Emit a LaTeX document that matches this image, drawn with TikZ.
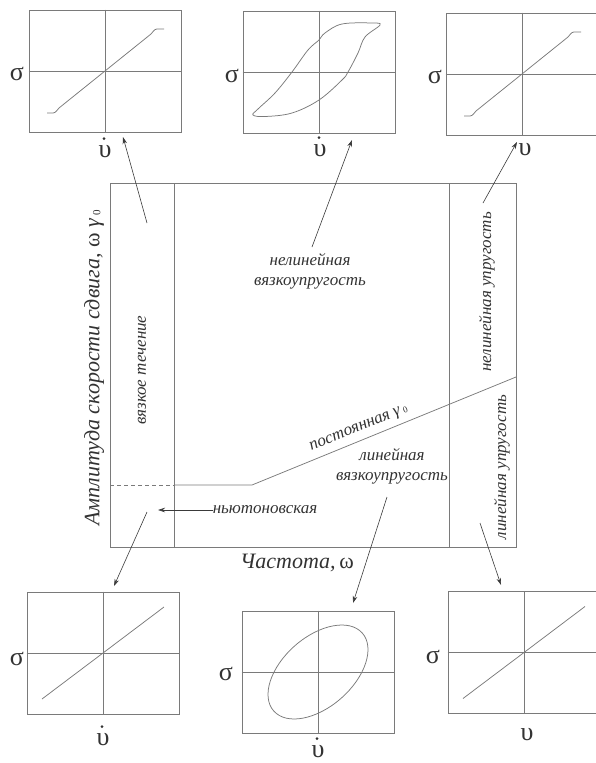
\documentclass[tikz,border=0pt]{standalone}
\usepackage{fontspec}
\setmainfont{Liberation Serif}
\usetikzlibrary{arrows.meta,calc}
\definecolor{lc}{HTML}{7A7A7A}
\definecolor{ac}{HTML}{3A3A3A}
\definecolor{tc}{HTML}{333333}
\begin{document}
\begin{tikzpicture}[x=1pt,y=-1pt,
  ln/.style={draw=lc, line width=0.75pt},
  plotbox/.style={draw=lc, line width=0.75pt, minimum width=152pt, minimum height=122pt, inner sep=0pt},
  cv/.style={draw=lc, line width=0.75pt},
  arr/.style={draw=ac, line width=0.6pt, -{Stealth[length=7pt,width=4.5pt]}},
  lbl/.style={font=\fontsize{17}{20}\selectfont\itshape, text=tc, inner sep=0pt},
  big/.style={font=\fontsize{22}{24}\selectfont\itshape, text=tc, inner sep=0pt},
  sym/.style={font=\fontsize{26}{28}\selectfont, text=tc, inner sep=0pt, anchor=base},
]
\useasboundingbox (0,0) rectangle (595,763);

% ---- plot boxes ----
\node[plotbox] (tl) at (105,71) {};
\node[plotbox] (tm) at (319,72) {};
\node[plotbox] (tr) at (522,74) {};
\node[plotbox] (bl) at (103,653) {};
\node[plotbox] (bm) at (318,672) {};
\node[plotbox] (br) at (524,652.5) {};
\foreach \b in {tl,tm,tr,bl,bm,br}{
  \draw[ln] (\b.north) -- (\b.south);
  \draw[ln] (\b.west) -- (\b.east);
}

% saturating curves
\foreach \b in {tl,tr}{
  \draw[cv, shift={(\b.center)}] (-58,42) -- (-54,42) .. controls (-50,42) .. (-46,37) -- (46,-37) .. controls (50,-42) .. (54,-42) -- (59,-42);
}
% hysteresis loop
\draw[cv, shift={(tm.center)}] plot[smooth cycle, tension=0.6] coordinates {
  (-66,43) (-54,44.5) (-27,41) (0,28) (23,8) (29,0) (39,-19) (46,-35) (61,-47)
  (53,-49) (23,-48) (6,-39) (0,-32) (-11,-22) (-27,0) (-44,21) (-61,37)};
% straight lines
\foreach \b in {bl,br}{
  \draw[cv, shift={(\b.center)}] (-61,46) -- (61,-46);
}
% ellipse
\draw[cv, shift={(bm.center)}, rotate=41.3] (0,0) ellipse [x radius=59pt, y radius=35pt];

% symbols
\node[sym] (s1) at (17,80) {σ};
\node[sym] (s2) at (232,82) {σ};
\node[sym] (s3) at (435,83) {σ};
\node[sym] (s4) at (17,665) {σ};
\node[sym] (s5) at (226,680) {σ};
\node[sym] (s6) at (433,663) {σ};
\node[sym] (u1) at (105,157) {υ};
\node[sym] (u2) at (320,156) {υ};
\node[sym] (u3) at (525,155) {υ};
\node[sym] (u4) at (103,745) {υ};
\node[sym] (u5) at (318,757) {υ};
\node[sym] (u6) at (527,740) {υ};
\foreach \u in {u1,u2,u4,u5}{
  \fill[tc] ($(\u.north)+(-1,-6)$) circle (1.5pt);
}

% ---- main diagram ----
\node[draw=lc, line width=0.75pt, inner sep=0pt, minimum width=406pt, minimum height=364pt] (main) at (313,365) {};
\coordinate (v1t) at (174,183); \coordinate (v1b) at (174,547);
\coordinate (v2t) at (449,183); \coordinate (v2b) at (449,547);
\draw[ln] (v1t) -- (v1b);
\draw[ln] (v2t) -- (v2b);
\coordinate (dl) at (110,485);
\coordinate (dr) at (174,485);
\coordinate (kn) at (252,485);
\coordinate (re) at (516,377);
\draw[ln, dashed, dash pattern=on 4pt off 3pt] (dl) -- (dr);
\draw[ln] (dr) -- (kn) -- (re);

% labels
\node[lbl, rotate=90] (visc) at (142,370) {вязкое течение};
\node[lbl, align=center] (nlve) at (310,271) {нелинейная\\вязкоупругость};
\node[lbl, rotate=90] (nle) at (487,292) {нелинейная упругость};
\node[lbl, rotate=90] (le) at (502,467) {линейная упругость};
\node[lbl, align=center] (lve) at (392,466) {линейная\\вязкоупругость};
\node[lbl, rotate=22.2] (const) at (359,429) {постоянная γ\,\raisebox{-0.1ex}{\fontsize{9}{9}\selectfont\upshape 0}};
\node[lbl] (newt) at (265,510) {ньютоновская};
\coordinate (nt) at (158,510);
\draw[arr] (newt.west) -- (nt);

\node[big] (xlab) at (297,563) {Частота,\,{\upshape ω}};
\node[big, rotate=90] (ylab) at (94,368) {Амплитуда скорости сдвига, {\upshape ω} γ\,\raisebox{-0.1ex}{\fontsize{11}{11}\selectfont\upshape 0}};

% ---- arrows ----
\coordinate (a1s) at (147,223); \coordinate (a1t) at (123,137);
\coordinate (a2s) at (312,247); \coordinate (a2t) at (352,140);
\coordinate (a3s) at (483,203); \coordinate (a3t) at (517,142);
\coordinate (a4s) at (147,512); \coordinate (a4t) at (114,586);
\coordinate (a5s) at (387,497); \coordinate (a5t) at (353,603);
\coordinate (a6s) at (480,523); \coordinate (a6t) at (501,585);
\foreach \i in {1,...,6}{ \draw[arr] (a\i s) -- (a\i t); }
\end{tikzpicture}
\end{document}
